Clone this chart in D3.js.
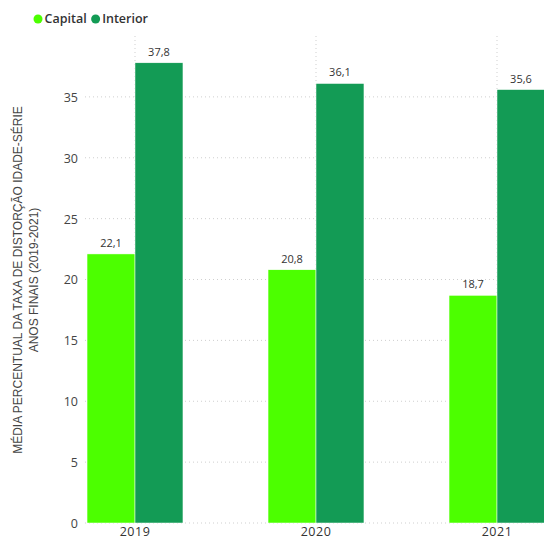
<!DOCTYPE html>
<html>
<head>
<meta charset="utf-8">
<script src="https://cdn.jsdelivr.net/npm/d3@7"></script>
<style>
  html, body { margin: 0; padding: 0; background: #fff; }
  svg { display: block; }
</style>
</head>
<body>
<svg id="chart" width="544" height="539"></svg>
<script>
// Anos (categorias) e médias por série
const years = ["2019", "2020", "2021"];
const seriesNames = ["Capital", "Interior"];
const capital = [22.1, 20.8, 18.7];
const interior = [37.8, 36.1, 35.6];
const yTicks = [0, 5, 10, 15, 20, 25, 30, 35];
const seriesColors = ["#4cff00", "#139b55"];

(function () {
const svg = d3.select("#chart");
const W = 544;
const plotTop = 36, plotBottom = 523;
const fontNum = "'Open Sans', 'DejaVu Sans', sans-serif";

const x = d3.scaleBand().domain(years).range([44.5, 587.5])
  .paddingInner(0.47).paddingOuter(0.235);
const xs = d3.scaleBand().domain(seriesNames).range([0, x.bandwidth()]);
const y = d3.scaleLinear().domain([0, 40]).range([plotBottom, plotTop]);
const color = d3.scaleOrdinal().domain(seriesNames).range(seriesColors);

const values = { Capital: capital, Interior: interior };
const rows = years.map((yr, i) => seriesNames.map(s => ({ year: yr, series: s, value: values[s][i] })));

// Linhas de grade horizontais (pontilhadas)
const grid = svg.append("g");
grid.selectAll("line.h").data(yTicks).join("line")
  .attr("x1", 85).attr("x2", W)
  .attr("y1", d => y(d)).attr("y2", d => y(d))
  .attr("stroke", "#cfcfcf").attr("stroke-width", 1)
  .attr("stroke-dasharray", "1,3");

// Linhas verticais pontilhadas no centro de cada ano
grid.selectAll("line.v").data(years).join("line")
  .attr("x1", d => x(d) + x.bandwidth() / 2).attr("x2", d => x(d) + x.bandwidth() / 2)
  .attr("y1", plotTop).attr("y2", plotBottom)
  .attr("stroke", "#cfcfcf").attr("stroke-width", 1)
  .attr("stroke-dasharray", "1,3");

// Eixo Y (rótulos)
const yAxis = d3.axisLeft(y).tickValues(yTicks).tickSize(0).tickPadding(0)
  .tickFormat(d3.format("d"));
const gy = svg.append("g").attr("transform", "translate(78,0)").call(yAxis);
gy.select(".domain").remove();
gy.selectAll("text").attr("font-family", fontNum).attr("font-size", 12.5)
  .attr("fill", "#444").attr("dy", "0.35em");

// Barras
const groups = svg.append("g").selectAll("g").data(rows).join("g")
  .attr("transform", d => `translate(${x(d[0].year)},0)`);
groups.selectAll("rect").data(d => d).join("rect")
  .attr("x", d => xs(d.series))
  .attr("width", xs.bandwidth())
  .attr("y", d => y(d.value))
  .attr("height", d => y(0) - y(d.value))
  .attr("fill", d => color(d.series))
  .attr("stroke", "#fff").attr("stroke-width", 0.5);

// Rótulos de valor
groups.selectAll("text").data(d => d).join("text")
  .attr("x", d => xs(d.series) + xs.bandwidth() / 2)
  .attr("y", d => y(d.value) - 7)
  .attr("text-anchor", "middle")
  .attr("font-family", fontNum).attr("font-size", 11)
  .attr("fill", "#333")
  .text(d => d3.format(".1f")(d.value).replace(".", ","));

// Eixo X (anos)
const xAxis = d3.axisBottom(x).tickSize(0).tickPadding(0);
const gx = svg.append("g").attr("transform", `translate(0,${plotBottom})`).call(xAxis);
gx.select(".domain").remove();
gx.selectAll("text").attr("font-family", fontNum).attr("font-size", 12.5)
  .attr("fill", "#333").attr("dy", "1.0em").attr("letter-spacing", "0.5px");

// Título do eixo Y
const title = svg.append("text")
  .attr("transform", "translate(0,280) rotate(-90)")
  .attr("text-anchor", "middle")
  .attr("font-family", "'Liberation Sans', Arial, sans-serif")
  .attr("font-size", 12).attr("fill", "#444");
title.append("tspan").attr("x", 0).attr("y", 22).text("MÉDIA PERCENTUAL DA TAXA DE DISTORÇÃO IDADE-SÉRIE");
title.append("tspan").attr("x", 0).attr("y", 38).text("ANOS FINAIS (2019-2021)");

// Legenda
const legend = svg.append("g").attr("transform", "translate(38,19)");
let lx = 0;
seriesNames.forEach(s => {
  const g = legend.append("g").attr("transform", `translate(${lx},0)`);
  g.append("circle").attr("r", 4.5).attr("fill", color(s));
  const t = g.append("text").attr("x", 6.5).attr("dy", "0.35em")
    .attr("font-family", fontNum).attr("font-size", 12.5)
    .attr("font-weight", 600).attr("fill", "#333").text(s);
  lx += 6.5 + t.node().getComputedTextLength() + 9;
});
})();
</script>
</body>
</html>
